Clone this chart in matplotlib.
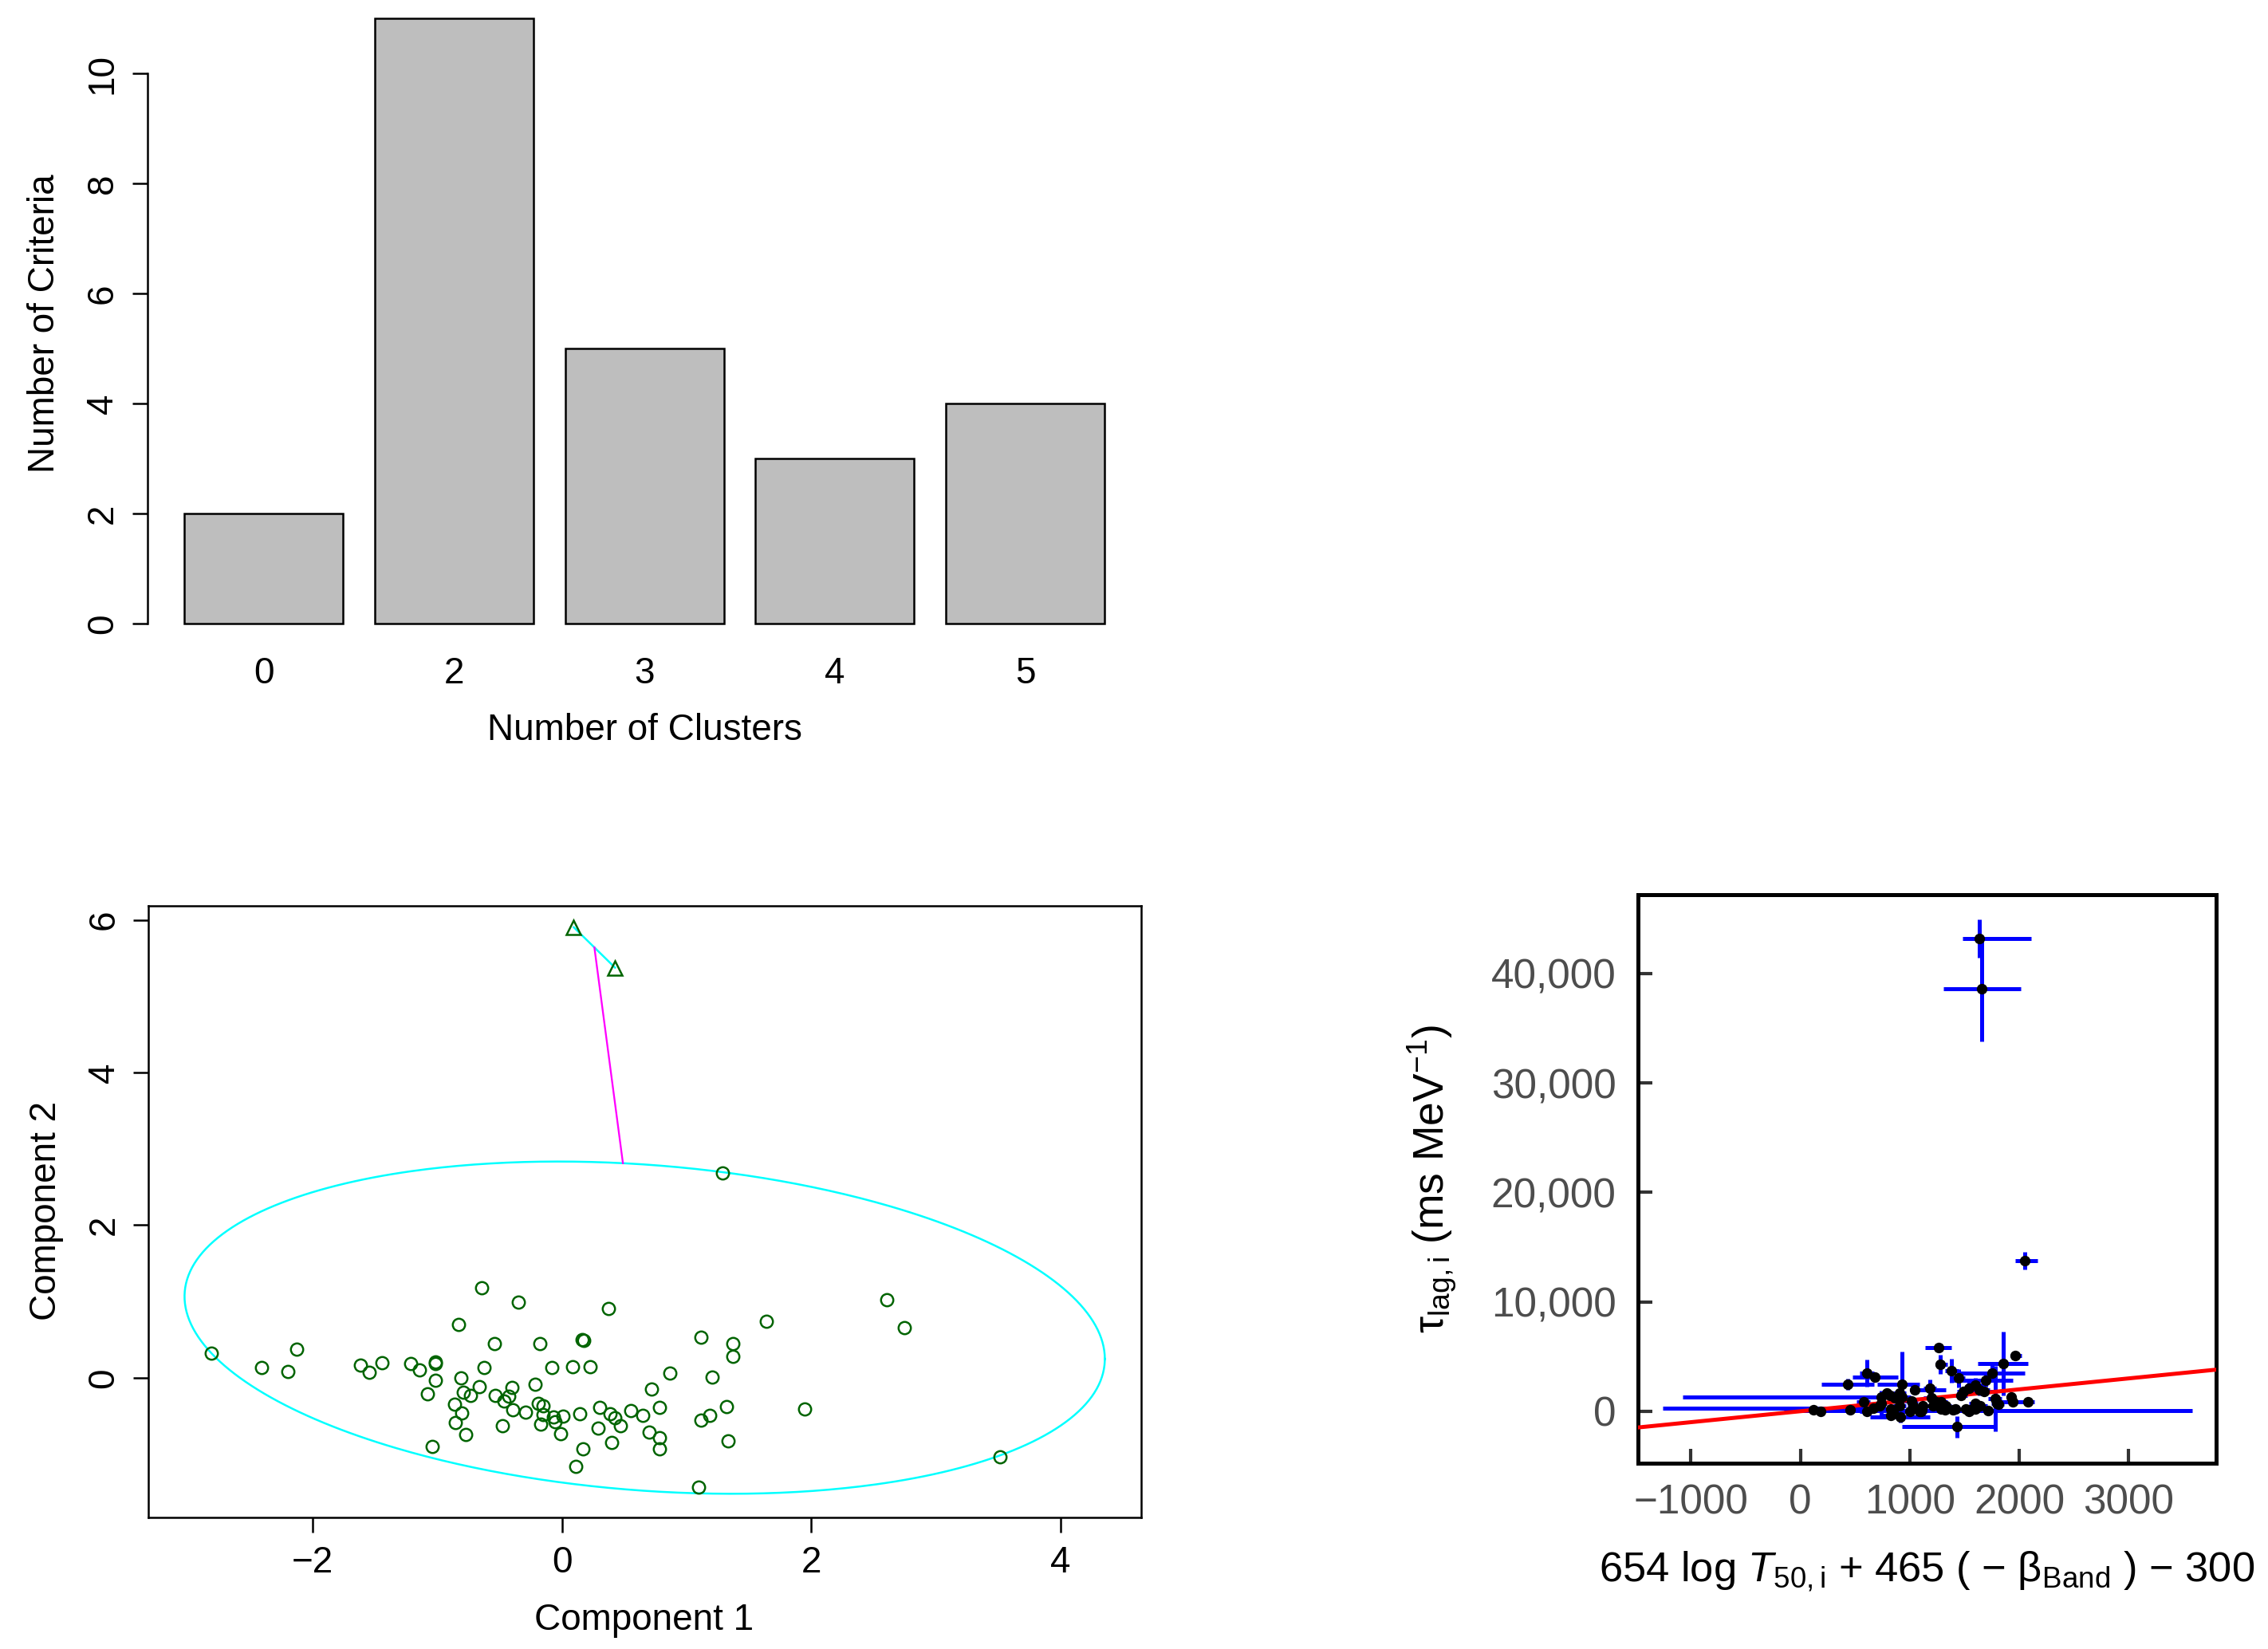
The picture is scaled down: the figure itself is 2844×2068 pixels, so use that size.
import numpy as np
import matplotlib
matplotlib.use("Agg")
import matplotlib.pyplot as plt
from matplotlib.ticker import FuncFormatter

W, H = 2845, 2068
DPI = 300

plt.rcParams["font.family"] = ["Liberation Sans", "DejaVu Sans"]
plt.rcParams["mathtext.fontset"] = "custom"
plt.rcParams["mathtext.rm"] = "Liberation Sans"
plt.rcParams["mathtext.it"] = "Liberation Sans:italic"

# ---- top left: number of criteria per number of clusters
cluster_labels = ["0", "2", "3", "4", "5"]
criteria_counts = [2, 11, 5, 3, 4]

# ---- bottom left: cluster plot (two components)
comp1 = [-2.811, -2.408, -2.201, -2.130, -1.615, -1.544, -1.444, -1.213, -1.142, -1.018,
         -1.012, -1.077, -1.012, -1.041, -0.864, -0.852, -0.828, -0.811, -0.805, -0.793,
         -0.769, -0.734, -0.663, -0.645, -0.627, -0.544, -0.538, -0.479, -0.462, -0.426,
         -0.402, -0.396, -0.349, -0.290, -0.213, -0.189, -0.178, -0.172, -0.154, -0.148,
         -0.083, -0.071, -0.053, -0.012, 0.006, 0.083, 0.112, 0.142, 0.160, 0.172,
         0.166, 0.225, 0.290, 0.302, 0.373, 0.385, 0.402, 0.426, 0.467, 0.550,
         0.651, 0.698, 0.716, 0.781, 0.781, 0.781, 0.864, 1.095, 1.118, 1.118,
         1.183, 1.207, 1.290, 1.320, 1.331, 1.373, 1.373, 1.639, 1.947, 2.604,
         2.746, 3.515]
comp2 = [0.323, 0.135, 0.084, 0.374, 0.168, 0.071, 0.200, 0.181, 0.097, 0.187,
         0.206, -0.213, -0.039, -0.903, -0.348, -0.587, 0.697, -0.006, -0.465, -0.187,
         -0.742, -0.232, -0.116, 1.174, 0.129, 0.445, -0.232, -0.626, -0.310, -0.245,
         -0.129, -0.419, 0.987, -0.452, -0.084, -0.342, 0.445, -0.613, -0.368, -0.484,
         0.129, -0.516, -0.574, -0.735, -0.503, 0.148, -1.161, -0.477, 0.497, 0.484,
         -0.929, 0.142, -0.658, -0.387, 0.903, -0.477, -0.845, -0.529, -0.632, -0.426,
         -0.497, -0.716, -0.148, -0.387, -0.787, -0.929, 0.065, -1.439, 0.535, -0.561,
         -0.497, 0.013, 2.684, -0.381, -0.832, 0.452, 0.277, 0.742, -0.413, 1.026,
         0.658, -1.032]
small_c1 = [0.095, 0.426]
small_c2 = [5.903, 5.374]
ellipse_center = [0.664, 0.656]
ellipse_cov = [[13.63, -1.51], [-1.51, 4.739]]

# ---- bottom right: lag vs combination, with errors
lag_x = [1633, 1659, 2050, 1261, 1962, 1276, 1851, 1382, 608, 681,
         1754, 1445, 1693, 436, 930, 1045, 1185, 1596, 1633, 1678,
         1491, 1543, 1929, 1941, 2080, 1792, 1778, 1714, 1600, 1600,
         1555, 1510, 1397, 1430, 1320, 1195, 1119, 1089, 1004, 1028,
         928, 907, 911, 823, 823, 862, 816, 741, 726, 665,
         605, 575, 454, 182, 121, 1013, 1210, 1330, 1285, 1467,
         907, 847, 1104, 1285, 1420, 1645, 1810, 1540, 786, 736,
         1110, 1244]
lag_y = [43207, 38615, 13761, 5850, 5100, 4250, 4358, 3710, 3470, 3098,
         3508, 3022, 2850, 2440, 2440, 1929, 2099, 2415, 1950, 1808,
         1808, 2123, 1319, 838, 838, 714, 1150, 36, 714, 226,
         100, 226, 100, -1422, 100, 1200, 472, -15, -15, 472,
         1319, 472, -503, -380, 226, 1200, 1443, 1320, 472, 313,
         -15, 838, 100, -15, 100, 959, 472, 472, 838, 1443,
         1686, -15, -15, 226, 226, 472, 667, -15, 1686, 690,
         109, 826]
x_err_lo = [151, 352, 85, 120, 45, 44, 230, 60, 64, 205,
            316, 60, 316, 245, 228, 44, 60, 80, 100, 80,
            60, 70, 40, 105, 60, 50, 60, 1864, 60, 50,
            60, 50, 80, 502, 60, 70, 60, 50, 60, 50,
            80, 60, 275, 80, 60, 50, 60, 1820, 50, 1924,
            60, 60, 50, 40, 40, 60, 60, 50, 60, 60,
            60, 50, 50, 50, 50, 60, 50, 50, 60, 50,
            50, 50]
x_err_hi = [476, 355, 120, 116, 60, 65, 230, 60, 65, 210,
            300, 60, 248, 237, 156, 284, 60, 80, 100, 80,
            60, 70, 40, 140, 60, 50, 60, 1864, 60, 50,
            60, 50, 80, 348, 60, 70, 60, 50, 60, 50,
            80, 60, 272, 80, 60, 50, 60, 60, 50, 61,
            60, 60, 50, 40, 40, 60, 60, 50, 60, 60,
            60, 50, 50, 50, 50, 60, 50, 50, 60, 50,
            50, 50]
y_err = [1740, 4790, 790, 200, 150, 875, 2900, 1100, 1250, 200,
         700, 850, 600, 500, 3000, 300, 800, 600, 500, 400,
         300, 700, 300, 200, 150, 300, 3000, 200, 400, 300,
         200, 300, 400, 1000, 300, 500, 300, 200, 250, 300,
         400, 300, 500, 300, 300, 400, 300, 300, 300, 200,
         200, 300, 200, 150, 150, 300, 300, 300, 300, 300,
         300, 200, 200, 200, 200, 300, 200, 200, 300, 1190,
         200, 200]
fit_intercept = 0.0
fit_slope = 1.0


def rect(left, top, right, bottom):
    # pixel box (from top-left corner) -> figure fraction rect
    return [left / W, 1 - bottom / H, (right - left) / W, (bottom - top) / H]


def fig_xy(x, y):
    return x / W, 1 - y / H


fig = plt.figure(figsize=(W / DPI, H / DPI), dpi=DPI)
fs_left = 11
fs_right = 12.3

# ---------------- bar chart
ax1 = fig.add_axes(rect(185.0, 0, 1431.4, 820.1))
pos = 0.7 + 1.2 * np.arange(len(criteria_counts))
ax1.bar(pos, criteria_counts, width=1.0, color="#BEBEBE", edgecolor="black", linewidth=0.6)
ax1.set_xlim(-0.032, 6.232)
ax1.set_ylim(-0.554, 11.34)
for s in ["top", "right", "bottom"]:
    ax1.spines[s].set_visible(False)
ax1.spines["left"].set_linewidth(0.6)
ax1.spines["left"].set_bounds(0, 10)
ax1.set_yticks([0, 2, 4, 6, 8, 10])
ax1.set_xticks(pos)
ax1.set_xticklabels(cluster_labels)
ax1.tick_params(axis="x", length=0, pad=0.8, labelsize=fs_left)
ax1.tick_params(axis="y", direction="out", length=4.56, width=0.6, pad=3.6,
                labelsize=fs_left, labelrotation=90)
for lab in ax1.get_yticklabels():
    lab.set_va("center")
ax1.set_xlabel("Number of Clusters", fontsize=fs_left)
ax1.xaxis.set_label_coords(*fig_xy(808, 928), transform=fig.transFigure)
ax1.xaxis.label.set_va("baseline")
ax1.set_ylabel("Number of Criteria", fontsize=fs_left)
ax1.yaxis.set_label_coords(*fig_xy(68, 406), transform=fig.transFigure)
ax1.yaxis.label.set_va("baseline")

# ---------------- cluster plot
ax2 = fig.add_axes(rect(185.9, 1135.8, 1430.6, 1902.6))
ax2.set_xlim(-3.319, 4.645)
ax2.set_ylim(-1.827, 6.186)

c1 = np.array(ellipse_center)
M = np.array(ellipse_cov)
L = np.linalg.cholesky(M)
t = np.linspace(0, 2 * np.pi, 500)
ell = c1[:, None] + L @ np.vstack([np.cos(t), np.sin(t)])
ax2.plot(ell[0], ell[1], color="#00FFFF", linewidth=0.6)

ax2.plot(small_c1, small_c2, color="#00FFFF", linewidth=0.6)
c2 = np.array([np.mean(small_c1), np.mean(small_c2)])
d = c2 - c1
q = d @ np.linalg.solve(M, d)
edge = c1 + d / np.sqrt(q)
ax2.plot([c2[0], edge[0]], [c2[1], edge[1]], color="#FF00FF", linewidth=0.55)

ax2.plot(comp1, comp2, "o", mfc="none", mec="#006400", ms=3.7, mew=0.6)
ax2.plot(small_c1, small_c2, "^", mfc="none", mec="#006400", ms=4.3, mew=0.6)

for s in ax2.spines.values():
    s.set_linewidth(0.6)
ax2.set_xticks([-2, 0, 2, 4])
ax2.set_yticks([0, 2, 4, 6])
ax2.tick_params(axis="x", direction="out", length=4.56, width=0.6, pad=3.9, labelsize=fs_left)
ax2.tick_params(axis="y", direction="out", length=4.56, width=0.6, pad=3.4,
                labelsize=fs_left, labelrotation=90)
for lab in ax2.get_yticklabels():
    lab.set_va("center")
ax2.set_xlabel("Component 1", fontsize=fs_left)
ax2.xaxis.set_label_coords(*fig_xy(808, 2044), transform=fig.transFigure)
ax2.xaxis.label.set_va("baseline")
ax2.set_ylabel("Component 2", fontsize=fs_left)
ax2.yaxis.set_label_coords(*fig_xy(70, 1519), transform=fig.transFigure)
ax2.yaxis.label.set_va("baseline")

# ---------------- lag scatter
ax3 = fig.add_axes(rect(2053.8, 1122.2, 2778.6, 1834.7))
ax3.set_xlim(-1486, 3797)
ax3.set_ylim(-4730, 47201)
ax3.errorbar(lag_x, lag_y, xerr=[x_err_lo, x_err_hi], yerr=y_err, fmt="none",
             ecolor="#0000FF", elinewidth=1.2, capsize=0, zorder=2)
ax3.axline((0, fit_intercept), slope=fit_slope, color="#FF0000", linewidth=1.2, zorder=3)
ax3.plot(lag_x, lag_y, "o", color="black", ms=3.2, mew=0, zorder=4)
for s in ax3.spines.values():
    s.set_linewidth(1.2)
    s.set_color("black")
ax3.set_xticks([-1000, 0, 1000, 2000, 3000])
ax3.set_yticks([0, 10000, 20000, 30000, 40000])
ax3.yaxis.set_major_formatter(FuncFormatter(lambda v, p: f"{v:,.0f}"))
ax3.tick_params(direction="in", length=4.3, width=1.0, color="#333333",
                labelcolor="#4D4D4D", labelsize=fs_right)
ax3.tick_params(axis="x", pad=6.3)
ax3.tick_params(axis="y", pad=6.5)
ax3.set_xlabel(r"654 log $\mathit{T}_{\mathrm{50,i}}$ + 465 ( − β$_{\mathrm{Band}}$ ) − 300",
               fontsize=12.6)
ax3.xaxis.set_label_coords(*fig_xy(2416, 1983), transform=fig.transFigure)
ax3.xaxis.label.set_va("baseline")
ax3.set_ylabel(r"τ$_{\mathrm{lag,i}}$ (ms MeV$^{-1}$)", fontsize=12.8)
ax3.yaxis.set_label_coords(*fig_xy(1812, 1478), transform=fig.transFigure)
ax3.yaxis.label.set_va("baseline")

fig.savefig("out.png", dpi=DPI)
